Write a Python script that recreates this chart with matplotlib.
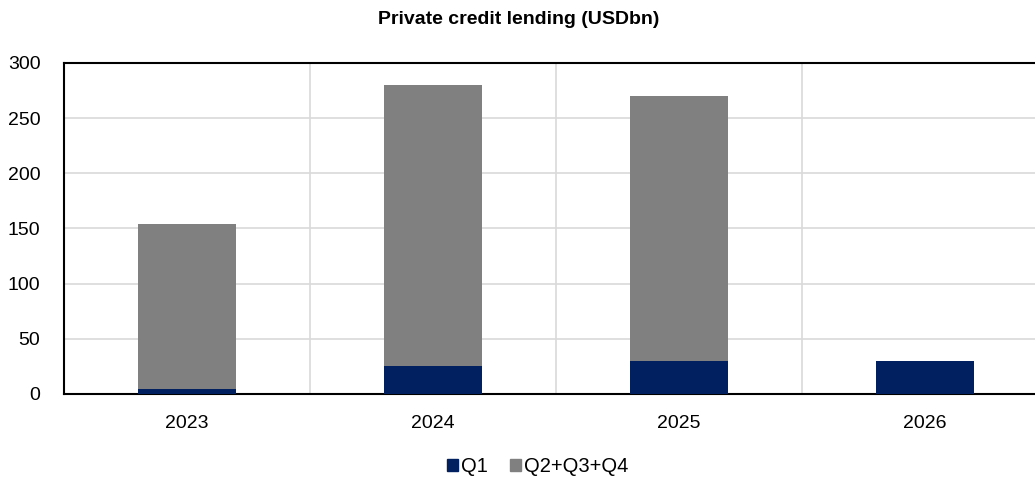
import numpy as np
import matplotlib
matplotlib.use('Agg')
import matplotlib.pyplot as plt
from matplotlib.patches import Patch

plt.rcParams['font.family'] = ['Liberation Sans', 'DejaVu Sans']

years = ['2023', '2024', '2025', '2026']
q1 = [4.5, 25, 30, 30]
q234 = [150, 255, 240, 0]

NAVY = '#002060'
GREY = '#808080'

W, H = 1035, 479
fig = plt.figure(figsize=(W / 100, H / 100), dpi=100)
# rechts bewusst über den Rand hinaus (wie im Original abgeschnitten)
ax = fig.add_axes([64 / W, 1 - 394 / H, 984 / W, 331 / H])

x = np.arange(len(years))
ax.bar(x, q1, width=0.4, color=NAVY, zorder=3)
ax.bar(x, q234, width=0.4, bottom=q1, color=GREY, zorder=3)

ax.set_xlim(-0.5, len(years) - 0.5)
ax.set_ylim(0, 300)
ax.set_yticks(range(0, 301, 50))
ax.set_xticks(x)
ax.set_xticklabels(years)
ax.tick_params(axis='both', length=0, labelsize=14, colors='black')
ax.tick_params(axis='x', pad=15)
ax.tick_params(axis='y', pad=17)

# Gitter: horizontal + vertikale Trennlinien zwischen Kategorien
ax.grid(axis='y', color='#d9d9d9', lw=1.2, zorder=0)
for b in x[1:] - 0.5:
    ax.axvline(b, color='#d9d9d9', lw=1.2, zorder=0)

for s in ['left', 'bottom', 'top']:
    ax.spines[s].set_color('black')
    ax.spines[s].set_linewidth(1.5)
ax.spines['right'].set_visible(False)

fig.text(519 / W, 1 - 19 / H, 'Private credit lending (USDbn)',
         ha='center', va='center', fontsize=14, fontweight='bold')

handles = [Patch(color=NAVY, label='Q1'), Patch(color=GREY, label='Q2+Q3+Q4')]
fig.legend(handles=handles, loc='center', bbox_to_anchor=(538 / W, 1 - 467 / H),
           ncol=2, frameon=False, fontsize=14.5, handlelength=0.55,
           handleheight=0.55, handletextpad=0.15, columnspacing=1.1)

fig.savefig('out.png', dpi=100)
